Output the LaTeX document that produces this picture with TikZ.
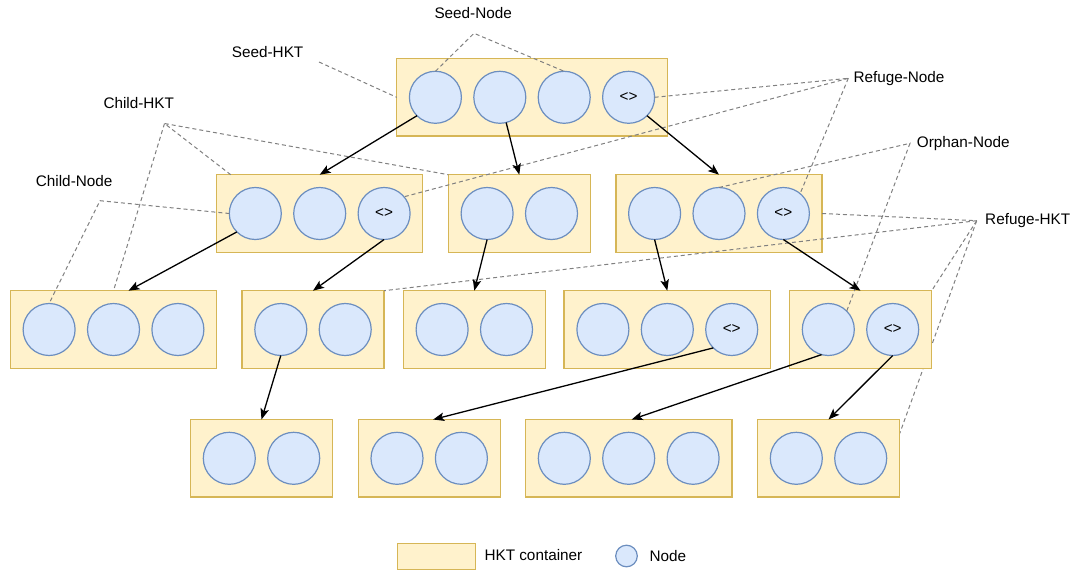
\documentclass[tikz,border=0pt]{standalone}
\usepackage{fontspec}
\setmainfont{Liberation Sans}
\usetikzlibrary{arrows.meta,calc,backgrounds}

\definecolor{hktfill}{HTML}{FFF2CC}
\definecolor{hktline}{HTML}{D6B656}
\definecolor{nodefill}{HTML}{DAE8FC}
\definecolor{nodeline}{HTML}{6C8EBF}
\definecolor{guidegray}{HTML}{808080}

\tikzset{
  hkt/.style={draw=hktline, fill=hktfill, line width=1.3pt, minimum height=77.6pt,
              inner sep=0pt, outer sep=0pt},
  nd/.style={circle, draw=nodeline, fill=nodefill, line width=1.2pt, minimum size=52pt,
             inner sep=0pt, outer sep=0pt},
  guide/.style={draw=guidegray, line width=1pt, dash pattern=on 4pt off 3pt},
  link/.style={draw=black, line width=1.3pt,
               -{Stealth[length=11pt,width=8.5pt,inset=2.5pt]}},
  lbl/.style={anchor=base west, inner sep=0pt},
}

\begin{document}
\begin{tikzpicture}[x=1pt, y=-1pt, font=\fontsize{15.3}{18}\selectfont]
\useasboundingbox (0,0) rectangle (1073,570);

% ---- seed level ----
\node[hkt, minimum width=270.6pt] (S) at (532,97.3) {};
\node[nd] (S1) at (435.4,97.3) {};
\node[nd] (S2) at (499.8,97.3) {};
\node[nd] (S3) at (564.2,97.3) {};
\node[nd] (S4) at (628.6,97.3) {<>};

% ---- second level ----
\node[hkt, minimum width=206pt] (A) at (319.7,213.5) {};
\node[nd] (A1) at (255.3,213.5) {};
\node[nd] (A2) at (319.7,213.5) {};
\node[nd] (A3) at (384.1,213.5) {<>};

\node[hkt, minimum width=142pt] (B) at (519.3,213.5) {};
\node[nd] (B1) at (487.1,213.5) {};
\node[nd] (B2) at (551.5,213.5) {};

\node[hkt, minimum width=206pt] (C) at (719,213.5) {};
\node[nd] (C1) at (654.6,213.5) {};
\node[nd] (C2) at (719,213.5) {};
\node[nd] (C3) at (783.4,213.5) {<>};

% ---- third level ----
\node[hkt, minimum width=206pt] (D) at (113.5,329.5) {};
\node[nd] (D1) at (49.1,329.5) {};
\node[nd] (D2) at (113.5,329.5) {};
\node[nd] (D3) at (177.9,329.5) {};

\node[hkt, minimum width=142pt] (E) at (313,329.5) {};
\node[nd] (E1) at (280.8,329.5) {};
\node[nd] (E2) at (345.2,329.5) {};

\node[hkt, minimum width=142pt] (F) at (474.3,329.5) {};
\node[nd] (F1) at (442.1,329.5) {};
\node[nd] (F2) at (506.5,329.5) {};

\node[hkt, minimum width=206.7pt] (G) at (667.3,329.5) {};
\node[nd] (G1) at (602.9,329.5) {};
\node[nd] (G2) at (667.3,329.5) {};
\node[nd] (G3) at (731.7,329.5) {<>};

\node[hkt, minimum width=142.4pt] (H) at (860.5,329.5) {};
\node[nd] (H1) at (828.3,329.5) {};
\node[nd] (H2) at (892.7,329.5) {<>};

% ---- fourth level ----
\node[hkt, minimum width=142pt] (I) at (261.5,458.3) {};
\node[nd] (I1) at (229.3,458.3) {};
\node[nd] (I2) at (293.7,458.3) {};

\node[hkt, minimum width=142pt] (J) at (429.2,458.3) {};
\node[nd] (J1) at (397,458.3) {};
\node[nd] (J2) at (461.4,458.3) {};

\node[hkt, minimum width=206.7pt] (K) at (628.7,458.3) {};
\node[nd] (K1) at (564.3,458.3) {};
\node[nd] (K2) at (628.7,458.3) {};
\node[nd] (K3) at (693.1,458.3) {};

\node[hkt, minimum width=142.4pt] (L) at (828.5,458.3) {};
\node[nd] (L1) at (796.3,458.3) {};
\node[nd] (L2) at (860.7,458.3) {};

% ---- callout labels ----
\node[lbl] (tSeedNode)   at (434.3,18.8)  {Seed-Node};
\node[lbl] (tSeedHKT)    at (231.7,57.2)  {Seed-HKT};
\node[lbl] (tChildHKT)   at (103.3,108.8) {Child-HKT};
\node[lbl] (tChildNode)  at (35.7,186.2)  {Child-Node};
\node[lbl] (tRefugeNode) at (853.3,82.8)  {Refuge-Node};
\node[lbl] (tOrphanNode) at (916.7,147.8) {Orphan-Node};
\node[lbl] (tRefugeHKT)  at (985,224.8)   {Refuge-HKT};

% callout line origins
\coordinate (snA) at (474,33.3);
\coordinate (shA) at (319,62);
\coordinate (chA) at (164.5,123.5);
\coordinate (cnA) at (100,200.7);
\coordinate (rnA) at (848.3,78.3);
\coordinate (onA) at (910,143.3);
\coordinate (rhA) at (976.7,220.7);

% this callout runs behind the refuge container H
\begin{pgfonlayer}{background}
  \draw[guide] (rhA) -- ($(L.north east)!0.18!(L.south east)$);
\end{pgfonlayer}

% ---- dashed callouts ----
\draw[guide] (S1.north) -- (snA) -- (S3.north);
\draw[guide] (shA) -- (S.west);
\draw[guide] ($(A.north west)+(14,0)$) -- (chA) -- (B.north west);
\draw[guide] (chA) -- (D.north);
\draw[guide] (A1.west) -- (cnA) -- (D1.north);
\draw[guide] (S4.east) -- (rnA);
\draw[guide] (rnA) -- (A3.40);
\draw[guide] (rnA) -- (C3.50);
\draw[guide] (C2.north) -- (onA) -- (H1.north east);
\draw[guide] (C.east) -- (rhA);
\draw[guide] (rhA) -- (E.north east);
\draw[guide] (rhA) -- (H.north east);

% ---- parent/child links ----
\draw[link] (S1.south west) -- (B.north -| A.north);
\draw[link] (S2) -- (B.north);
\draw[link] (S4.south east) -- (C.north);
\draw[link] (A1.south west) -- ($(D.north)+(15,0)$);
\draw[link] (A3.south) -- (E.north);
\draw[link] (B1.south) -- (F.north);
\draw[link] (C1.south) -- (G.north);
\draw[link] (C3.south) -- (H.north);
\draw[link] (E1.south) -- (I.north);
\draw[link] (G3.south west) -- ($(J.north)+(4,0)$);
\draw[link] (H1.255) -- ($(K.north)+(3,0)$);
\draw[link] (H2.south) -- (L.north);

% ---- legend ----
\node[hkt, minimum width=78.4pt, minimum height=26pt] (legBox) at (436.5,556.3) {};
\node[lbl] (legBoxText) at (484.3,560.5) {HKT container};
\node[nd, minimum size=21.6pt] (legNode) at (626.5,556) {};
\node[lbl] (legNodeText) at (649.3,561.5) {Node};
\end{tikzpicture}
\end{document}
